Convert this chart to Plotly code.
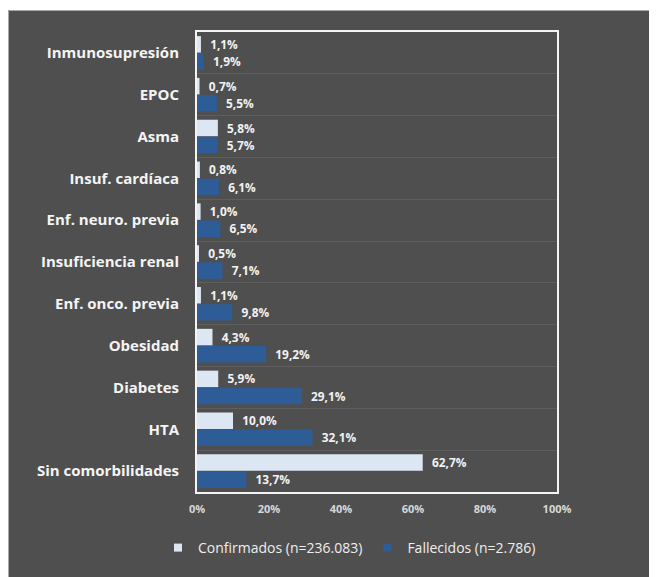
import plotly.graph_objects as go

categories = ["Inmunosupresión", "EPOC", "Asma", "Insuf. cardíaca", "Enf. neuro. previa",
              "Insuficiencia renal", "Enf. onco. previa", "Obesidad", "Diabetes", "HTA",
              "Sin comorbilidades"]
confirmados = [1.1, 0.7, 5.8, 0.8, 1.0, 0.5, 1.1, 4.3, 5.9, 10.0, 62.7]
fallecidos = [1.9, 5.5, 5.7, 6.1, 6.5, 7.1, 9.8, 19.2, 29.1, 32.1, 13.7]
series_names = ["Confirmados (n=236.083)", "Fallecidos (n=2.786)"]
x_ticks = [0, 20, 40, 60, 80, 100]
x_tick_labels = ["0%", "20%", "40%", "60%", "80%", "100%"]

FONT = "Open Sans"
BG = "#4f4f4f"
LIGHT = "#dde7f3"
DARK = "#2e5c97"

fig = go.Figure()
for vals, name, col in [(confirmados, series_names[0], LIGHT), (fallecidos, series_names[1], DARK)]:
    fig.add_trace(go.Bar(
        y=categories, x=vals, orientation="h", name=name, showlegend=False,
        marker=dict(color=col, line=dict(width=0)),
        texttemplate="\u00a0\u00a0%{x:.1f}%", textposition="outside", cliponaxis=False,
        textfont=dict(family=FONT, size=13, color="#f2f2f2", weight="bold"),
    ))
    # legend entry with small square key
    fig.add_trace(go.Scatter(
        x=[None], y=[None], mode="markers", name=name, showlegend=True,
        marker=dict(symbol="square", size=8, color=col),
    ))

# figure is placed at (8, 8) in the page by the body margin
W, H = 649, 569
L, R, T, B = 189, 100, 24, 85
pw, ph = W - L - R, H - T - B

def px(x):
    return (x - L) / pw

def py(y):
    return (H - B - y) / ph

shapes = [
    dict(type="rect", xref="paper", yref="paper", x0=px(-5), x1=px(W + 5), y0=py(2), y1=py(-5),
         fillcolor="white", line=dict(width=0), layer="above"),
    dict(type="line", xref="paper", yref="paper", x0=px(0.5), x1=px(W + 5), y0=py(2.5), y1=py(2.5),
         line=dict(color="#a8a8a8", width=1), layer="above"),
    dict(type="line", xref="paper", yref="paper", x0=px(0.5), x1=px(0.5), y0=py(2.5), y1=py(H + 5),
         line=dict(color="#a8a8a8", width=1), layer="above"),
]

fig.update_layout(
    width=W, height=H,
    margin=dict(l=L, r=R, t=T, b=B, autoexpand=False),
    paper_bgcolor=BG, plot_bgcolor=BG,
    barmode="group", bargap=0.18, bargroupgap=0.04,
    separators=",.",
    font=dict(family=FONT, color="#f2f2f2"),
    shapes=shapes,
    showlegend=True,
    legend=dict(orientation="h", x=px(150), xanchor="left", y=py(540), yanchor="middle",
                font=dict(family=FONT, size=14, color="#eeeeee"), bgcolor="rgba(0,0,0,0)",
                itemwidth=30, tracegroupgap=0),
    xaxis=dict(range=[0, 100], tickvals=x_ticks, ticktext=x_tick_labels,
               showgrid=False, zeroline=False, showline=True, mirror=True,
               linecolor="#f4f4f4", linewidth=2,
               tickfont=dict(family=FONT, size=11, color="#d8d8d8", weight="bold"),
               ticks="", ticklabelstandoff=6),
    yaxis=dict(autorange="reversed", type="category", tickson="boundaries",
               showgrid=True, gridcolor="#5e5e5e", gridwidth=1,
               showline=True, mirror=True, linecolor="#f4f4f4", linewidth=2,
               ticks="", ticklabelstandoff=13,
               tickfont=dict(family=FONT, size=15, color="#f4f4f4", weight="bold")),
)

fig.write_html("out.html")
